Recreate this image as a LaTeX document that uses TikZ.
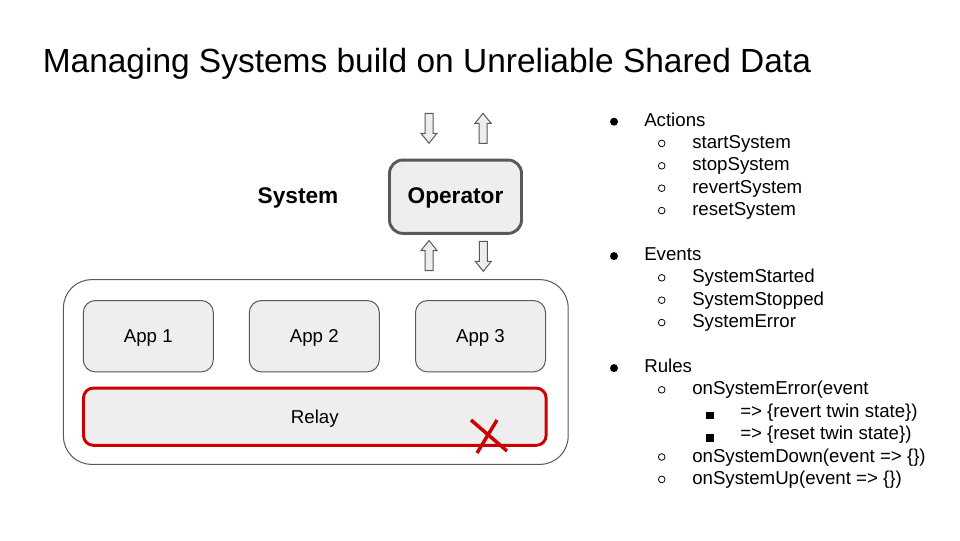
\documentclass[tikz,border=0pt]{standalone}
\usepackage{fontspec}
\setmainfont{Liberation Sans}
\definecolor{boxfill}{HTML}{EEEEEE}
\definecolor{boxline}{HTML}{595959}
\definecolor{relayred}{HTML}{CC0000}
\newcommand\bulA[2]{%
  \fill (614,{#1-4.3}) circle[radius=3pt];
  \node[listtext] at (644,#1) {#2};}
\newcommand\bulB[2]{%
  \draw[line width=0.6pt] (661.7,{#1-5}) circle[radius=2.5pt];
  \node[listtext] at (692,#1) {#2};}
\newcommand\bulC[2]{%
  \fill ({710-3.8},{#1-1.5-3.7}) rectangle ({710+3.8},{#1-1.5+3.7});
  \node[listtext] at (740,#1) {#2};}
\newcommand\arrowdn[2]{%
  \draw[arrowbox] ({#1-4},#2) -- ({#1+4},#2) -- ({#1+4},{#2+20}) -- ({#1+8},{#2+20})
    -- (#1,{#2+30}) -- ({#1-8},{#2+20}) -- ({#1-4},{#2+20}) -- cycle;}
\newcommand\arrowup[2]{%
  \draw[arrowbox] ({#1-4},{#2+30}) -- ({#1+4},{#2+30}) -- ({#1+4},{#2+10}) -- ({#1+8},{#2+10})
    -- (#1,#2) -- ({#1-8},{#2+10}) -- ({#1-4},{#2+10}) -- cycle;}
\begin{document}
\begin{tikzpicture}[x=0.75pt,y=-0.75pt,
  listtext/.style={anchor=base west,inner sep=0pt,font=\fontsize{14}{16}\selectfont},
  arrowbox/.style={draw=boxline,fill=boxfill,line width=0.75pt,line join=miter},
  centred/.style={text height=10pt,text depth=0pt},
  appbox/.style={draw=boxline,fill=boxfill,line width=0.75pt,rounded corners=9pt,centred,
    minimum width=97.5pt,minimum height=53.5pt,font=\fontsize{14}{16}\selectfont},
  outerbox/.style={draw=boxline,fill=white,line width=0.75pt,rounded corners=21pt,
    minimum width=378.5pt,minimum height=138.5pt},
  relaybox/.style={draw=relayred,fill=boxfill,line width=2.2pt,rounded corners=7.5pt,centred,
    minimum width=347pt,minimum height=43pt,font=\fontsize{14}{16}\selectfont},
  opbox/.style={draw=boxline,fill=boxfill,line width=2.2pt,rounded corners=10pt,centred,
    minimum width=99pt,minimum height=55pt,font=\fontsize{17}{20}\selectfont\bfseries},
  crossline/.style={draw=relayred,line width=2.6pt}]
\useasboundingbox (0,0) rectangle (960,540);
\fill[white] (0,0) rectangle (960,540);
% title
\node[anchor=base west,inner sep=0pt,font=\fontsize{25.1}{29}\selectfont] (title) at (42.5,72.7)
  {Managing Systems build on Unreliable Shared Data};
% system container
\node[outerbox] (sys) at (315.8,372) {};
\node[appbox] (app1) at (148.3,336.2) {App 1};
\node[appbox] (app2) at (314.3,336.2) {App 2};
\node[appbox] (app3) at (480.5,336.2) {App 3};
\node[relaybox] (relay) at (314.8,416.7) {Relay};
\coordinate (xa) at (471,420);
\coordinate (xb) at (507,451);
\coordinate (xc) at (497,420);
\coordinate (xd) at (477,453);
\draw[crossline] (xa) -- (xb);
\draw[crossline] (xc) -- (xd);
% operator
\node[opbox] (op) at (455.5,196.7) {Operator};
\node[anchor=base,font=\fontsize{17}{20}\selectfont\bfseries,inner sep=0pt] (syslabel) at (298,203.4) {System};
% block arrows
\arrowdn{429}{113.3}
\arrowup{483}{113.3}
\arrowup{429}{240.5}
\arrowdn{483.3}{241.3}
% list
\bulA{126}{Actions}
\bulB{148.4}{startSystem}
\bulB{170.8}{stopSystem}
\bulB{193.2}{revertSystem}
\bulB{215.6}{resetSystem}
\bulA{260.4}{Events}
\bulB{282.8}{SystemStarted}
\bulB{305.2}{SystemStopped}
\bulB{327.6}{SystemError}
\bulA{372.4}{Rules}
\bulB{394.8}{onSystemError(event}
\bulC{417.2}{=> \{revert twin state\})}
\bulC{439.6}{=> \{reset twin state\})}
\bulB{462}{onSystemDown(event => \{\})}
\bulB{484.4}{onSystemUp(event => \{\})}
\end{tikzpicture}
\end{document}
